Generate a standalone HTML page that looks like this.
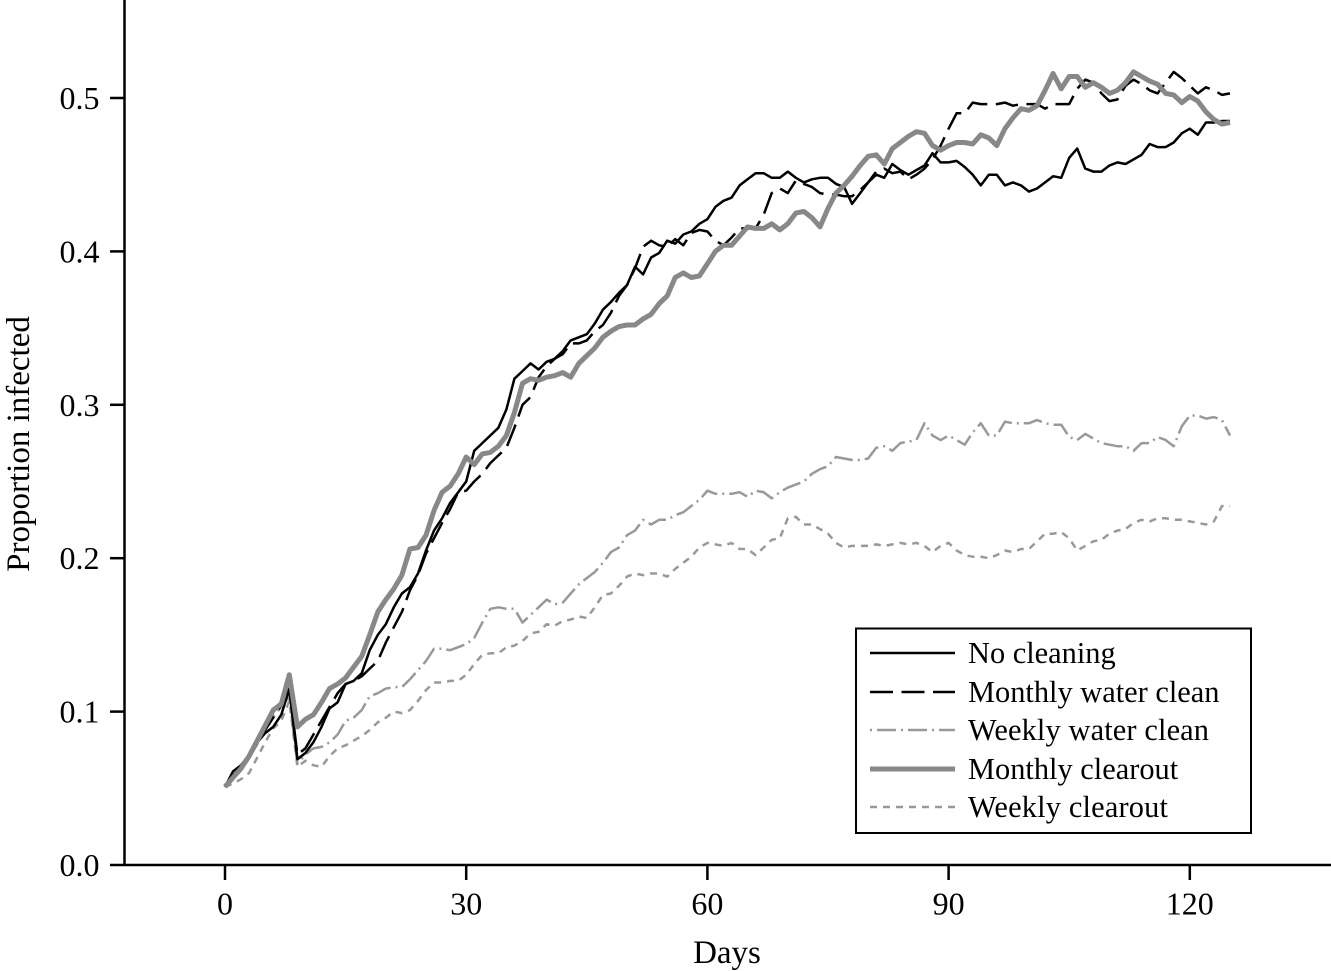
<!DOCTYPE html>
<html lang="en">
<head>
<meta charset="utf-8">
<title>Proportion infected over days</title>
<style>
html,body{margin:0;padding:0;background:#fff}
svg{display:block}
text{font-family:"Liberation Serif","Times New Roman",serif;fill:#000}
</style>
</head>
<body>
<svg id="chart" xmlns="http://www.w3.org/2000/svg" width="1331" height="971" viewBox="0 0 1331 971">
<rect x="0" y="0" width="1331" height="971" fill="#fff"/>
<g id="series-layer"></g>
<g id="axis-layer"></g>
<text x="727" y="963" font-size="33" text-anchor="middle">Days</text>
<text transform="translate(29,444) rotate(-90)" font-size="33" text-anchor="middle">Proportion infected</text>
<g id="legend">
<rect x="856" y="628.5" width="395" height="204.5" fill="#fff" stroke="#000" stroke-width="2"/>
<line x1="870" x2="955" y1="653" y2="653" stroke="#000" stroke-width="2.5"/>
<text x="968" y="663" font-size="30.4">No cleaning</text>
<line x1="870" x2="955" y1="692" y2="692" stroke="#000" stroke-width="2.5" stroke-dasharray="23 8.5"/>
<text x="968" y="702" font-size="30.4">Monthly water clean</text>
<line x1="870" x2="955" y1="730" y2="730" stroke="#999" stroke-width="2.5" stroke-dasharray="2 5 19 5"/>
<text x="968" y="740" font-size="30.4" textLength="241">Weekly water clean</text>
<line x1="870" x2="955" y1="769" y2="769" stroke="#888" stroke-width="5"/>
<text x="968" y="779" font-size="30.4">Monthly clearout</text>
<line x1="870" x2="955" y1="807" y2="807" stroke="#999" stroke-width="2.5" stroke-dasharray="7 6"/>
<text x="968" y="817" font-size="30.4" textLength="200">Weekly clearout</text>
</g>
</svg>
<script>
const days = [0,1,2,3,4,5,6,7,8,9,10,11,12,13,14,15,16,17,18,19,20,21,22,23,24,25,26,27,28,29,30,31,32,33,34,35,36,37,38,39,40,41,42,43,44,45,46,47,48,49,50,51,52,53,54,55,56,57,58,59,60,61,62,63,64,65,66,67,68,69,70,71,72,73,74,75,76,77,78,79,80,81,82,83,84,85,86,87,88,89,90,91,92,93,94,95,96,97,98,99,100,101,102,103,104,105,106,107,108,109,110,111,112,113,114,115,116,117,118,119,120,121,122,123,124,125];
const xTicks = [0,30,60,90,120];
const yTicks = ["0.0","0.1","0.2","0.3","0.4","0.5"];
const noCleaning = [.051,.061,.065,.072,.080,.086,.090,.098,.115,.069,.073,.080,.090,.102,.106,.118,.120,.125,.140,.150,.157,.168,.177,.181,.190,.205,.218,.226,.236,.243,.250,.270,.275,.280,.285,.297,.317,.322,.327,.323,.328,.330,.335,.342,.344,.346,.353,.362,.367,.373,.378,.390,.385,.396,.399,.407,.405,.411,.413,.418,.421,.429,.433,.435,.443,.447,.451,.451,.448,.448,.452,.448,.445,.447,.448,.448,.444,.442,.431,.438,.445,.450,.448,.457,.453,.450,.453,.456,.464,.458,.458,.459,.455,.450,.443,.450,.450,.443,.445,.443,.439,.441,.445,.449,.448,.461,.467,.454,.452,.452,.456,.458,.457,.460,.463,.470,.468,.468,.471,.477,.480,.476,.484,.484,.485,.485];
const monthlyWaterClean = [.051,.058,.064,.070,.079,.088,.096,.104,.115,.072,.076,.085,.094,.103,.112,.118,.120,.123,.128,.133,.145,.155,.165,.179,.189,.203,.213,.223,.232,.243,.244,.250,.255,.262,.267,.272,.285,.300,.305,.318,.325,.330,.333,.340,.340,.342,.348,.352,.360,.371,.378,.389,.403,.407,.404,.403,.408,.404,.412,.414,.413,.407,.404,.409,.415,.415,.415,.424,.438,.441,.438,.446,.444,.442,.438,.437,.437,.436,.436,.440,.445,.452,.454,.451,.452,.447,.450,.454,.460,.469,.480,.490,.490,.497,.496,.496,.496,.497,.495,.496,.496,.496,.493,.496,.496,.496,.506,.512,.510,.503,.498,.499,.508,.512,.509,.505,.503,.510,.517,.513,.508,.503,.507,.505,.502,.503];
const weeklyWaterClean = [.051,.056,.062,.070,.079,.090,.097,.103,.110,.066,.072,.076,.077,.080,.085,.094,.096,.101,.110,.112,.115,.116,.116,.121,.127,.133,.141,.141,.140,.142,.144,.148,.158,.167,.168,.167,.167,.158,.163,.168,.173,.170,.171,.177,.183,.187,.191,.197,.204,.207,.215,.218,.225,.222,.225,.225,.228,.230,.234,.238,.244,.242,.242,.242,.243,.240,.244,.243,.239,.243,.246,.248,.250,.255,.258,.260,.266,.265,.264,.264,.265,.272,.273,.270,.275,.276,.277,.288,.280,.277,.280,.277,.274,.282,.288,.280,.280,.289,.288,.288,.288,.290,.288,.287,.287,.279,.277,.281,.278,.275,.274,.273,.273,.270,.275,.275,.279,.277,.273,.286,.293,.293,.291,.292,.290,.280];
const monthlyClearout = [.051,.057,.063,.071,.081,.091,.101,.105,.124,.090,.095,.098,.106,.115,.118,.122,.129,.136,.150,.165,.173,.180,.189,.206,.207,.215,.231,.243,.247,.255,.266,.261,.268,.269,.273,.280,.295,.314,.317,.316,.318,.319,.321,.318,.327,.332,.337,.344,.348,.351,.352,.352,.356,.359,.366,.371,.383,.386,.383,.384,.392,.400,.404,.404,.410,.416,.415,.415,.418,.414,.418,.425,.426,.422,.416,.428,.438,.443,.449,.456,.462,.463,.457,.467,.471,.475,.478,.477,.469,.466,.469,.471,.471,.470,.476,.474,.469,.480,.487,.493,.492,.495,.505,.516,.506,.514,.514,.507,.510,.507,.503,.505,.510,.517,.514,.511,.509,.503,.502,.497,.501,.498,.491,.486,.483,.484];
const weeklyClearout = [.051,.053,.056,.060,.070,.080,.089,.094,.107,.064,.068,.065,.064,.071,.076,.078,.081,.084,.088,.093,.096,.100,.099,.101,.107,.114,.119,.119,.120,.120,.124,.131,.137,.138,.138,.142,.143,.146,.151,.152,.157,.156,.159,.160,.162,.161,.168,.176,.177,.182,.188,.190,.189,.190,.190,.188,.193,.197,.201,.207,.210,.209,.208,.210,.206,.206,.202,.207,.212,.213,.226,.227,.222,.222,.219,.216,.210,.207,.208,.208,.208,.209,.208,.209,.210,.209,.210,.208,.204,.208,.210,.205,.202,.201,.201,.200,.202,.205,.204,.206,.206,.211,.216,.216,.217,.213,.205,.208,.211,.212,.216,.218,.219,.223,.225,.224,.226,.226,.225,.225,.224,.223,.222,.224,.234,.234];

const SVG_NS = "http://www.w3.org/2000/svg";
function xScale(d){ return 225 + d * 8.04; }
function yScale(v){ return 865 - v * 1534; }
function make(tag, attrs, parent){
  const el = document.createElementNS(SVG_NS, tag);
  for (const k in attrs) el.setAttribute(k, attrs[k]);
  parent.appendChild(el);
  return el;
}
function drawSeries(values, name, stroke, width, dash){
  const pts = values.map(function(v, i){ return xScale(days[i]).toFixed(1) + "," + yScale(v).toFixed(1); }).join(" ");
  const el = make("polyline", {points: pts, fill: "none", stroke: stroke, "stroke-width": width, "stroke-linejoin": "round"}, document.getElementById("series-layer"));
  if (dash) el.setAttribute("stroke-dasharray", dash);
  
  
}
drawSeries(weeklyClearout, "series-weekly-clearout", "#999", 2.5, "7 6");
drawSeries(weeklyWaterClean, "series-weekly-water-clean", "#999", 2.5, "2 5 19 5");
drawSeries(noCleaning, "series-no-cleaning", "#000", 2.5, "");
drawSeries(monthlyWaterClean, "series-monthly-water-clean", "#000", 2.5, "23 8.5");
drawSeries(monthlyClearout, "series-monthly-clearout", "#888", 5, "");

const axisLayer = document.getElementById("axis-layer");
const yAxisLine = make("line", {x1: 124.5, x2: 124.5, y1: 0, y2: 866, stroke: "#000", "stroke-width": 2.5}, axisLayer);


const xAxisLine = make("line", {x1: 124, x2: 1331, y1: 865, y2: 865, stroke: "#000", "stroke-width": 2.5}, axisLayer);


xTicks.forEach(function(t){
  const x = xScale(t);
  const tick = make("line", {x1: x, x2: x, y1: 865, y2: 880, stroke: "#000", "stroke-width": 2.5}, axisLayer);
  
  
  const label = make("text", {x: x, y: 914.5, "font-size": 32, "text-anchor": "middle"}, axisLayer);
  label.textContent = String(t);
  
  
});
yTicks.forEach(function(t){
  const y = yScale(parseFloat(t));
  const tick = make("line", {x1: 110, x2: 124, y1: y, y2: y, stroke: "#000", "stroke-width": 2.5}, axisLayer);
  
  
  const label = make("text", {x: 99.5, y: y + 11, "font-size": 32, "text-anchor": "end"}, axisLayer);
  label.textContent = t;
  
  
});
</script>
</body>
</html>
